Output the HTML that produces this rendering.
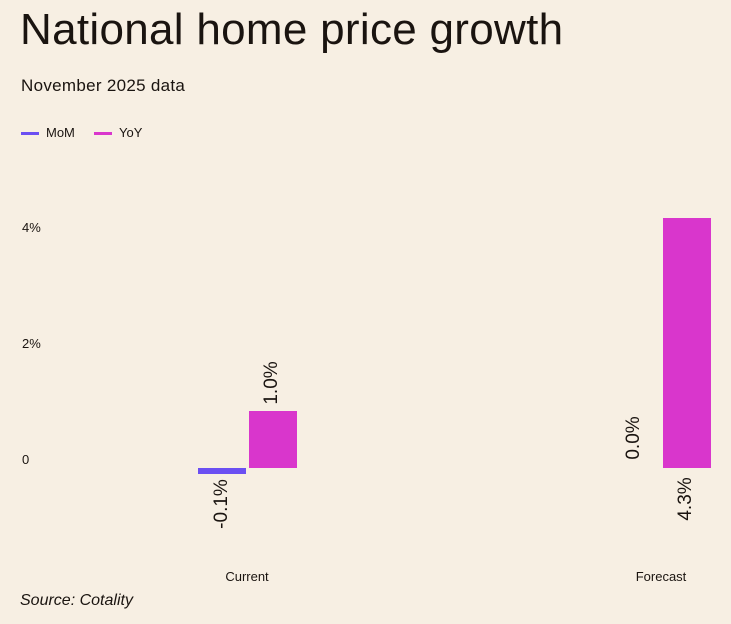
<!DOCTYPE html>
<html><head><meta charset="utf-8"><style>
body{margin:0;width:731px;height:624px;background:#f7efe3;font-family:"Liberation Sans",sans-serif;color:#1a1410;overflow:hidden;position:relative}
.a{position:absolute;white-space:nowrap}
</style></head><body>
<div class="a" style="left:20px;top:5px;font-size:44px;letter-spacing:0.3px">National home price growth</div>
<div class="a" style="left:21px;top:76px;font-size:17px;letter-spacing:0.3px">November 2025 data</div>
<div class="a" style="left:21px;top:132px;width:18px;height:3px;background:#6b4ff2"></div>
<div class="a" style="left:46px;top:125px;font-size:13px">MoM</div>
<div class="a" style="left:94px;top:132px;width:18px;height:3px;background:#d936cc"></div>
<div class="a" style="left:119px;top:125px;font-size:13px">YoY</div>
<div class="a" style="left:22px;top:220px;font-size:13px">4%</div>
<div class="a" style="left:22px;top:336px;font-size:13px">2%</div>
<div class="a" style="left:22px;top:452px;font-size:13px">0</div>
<div class="a" style="left:198px;top:468px;width:48px;height:6px;background:#6b4ff2"></div>
<div class="a" style="left:249px;top:411px;width:48px;height:57px;background:#d936cc"></div>
<div class="a" style="left:663px;top:218px;width:48px;height:250px;background:#d936cc"></div>
<div class="a" style="left:272px;top:383px;font-size:19px;transform:translate(-50%,-50%) rotate(-90deg)">1.0%</div>
<div class="a" style="left:222px;top:504px;font-size:19px;transform:translate(-50%,-50%) rotate(-90deg)">-0.1%</div>
<div class="a" style="left:634px;top:438px;font-size:19px;transform:translate(-50%,-50%) rotate(-90deg)">0.0%</div>
<div class="a" style="left:686px;top:499px;font-size:19px;transform:translate(-50%,-50%) rotate(-90deg)">4.3%</div>
<div class="a" style="left:247px;top:569px;font-size:13px;transform:translateX(-50%)">Current</div>
<div class="a" style="left:661px;top:569px;font-size:13px;transform:translateX(-50%)">Forecast</div>
<div class="a" style="left:20px;top:592px;font-size:16px;font-style:italic">Source: Cotality</div>
</body></html>
